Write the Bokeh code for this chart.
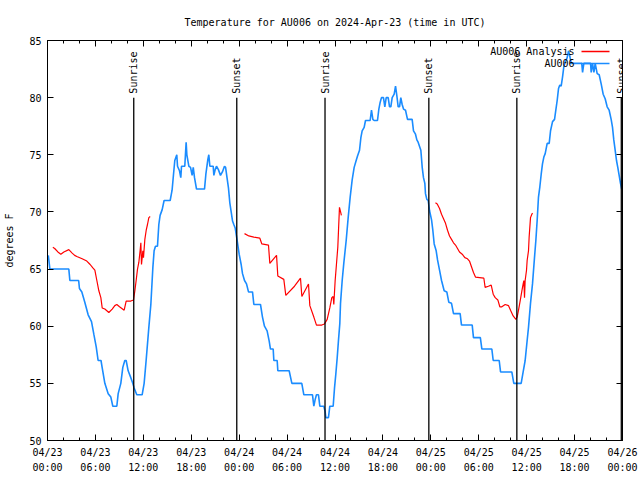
import math
from bokeh.plotting import figure
from bokeh.models import (FixedTicker, LinearAxis, Range1d, LabelSet, ColumnDataSource,
                          Label, Arrow, CustomJSTickFormatter)
from bokeh.core.properties import value
from bokeh.embed import file_html
from bokeh.resources import INLINE

NAN = float("nan")

# ---------------- data (hours since 2024-04-23 00:00 UTC) ----------------
obs_hours = [0.1, 0.3, 2.67, 2.8, 3.9, 4.0, 4.3, 4.67, 5.09, 5.51, 5.8, 6.1, 6.34, 6.7, 6.84,
             7.18, 7.6, 7.93, 8.18, 8.68, 8.85, 9.18, 9.43, 9.68, 9.85, 10.1, 10.43, 10.68,
             10.85, 11.18, 11.85, 12.1, 12.35, 12.69, 12.94, 13.19, 13.35, 13.52, 13.77, 13.94,
             14.1, 14.36, 14.6, 15.36, 15.6, 15.78, 15.94, 16.19, 16.28, 16.53, 16.69, 16.78,
             17.19, 17.36, 17.45, 17.7, 17.91, 18.11, 18.25, 18.41, 18.66, 19.66, 19.83, 20.08,
             20.2, 20.33, 20.75, 20.83, 21.0, 21.16, 21.4, 21.66, 21.9, 22.16, 22.3, 22.5,
             22.66, 22.83, 23.0, 23.17, 23.33, 23.5, 23.75, 24.0, 24.25, 24.42, 24.67, 24.92,
             25.17, 25.67, 25.84, 26.67, 26.92, 27.17, 27.5, 27.76, 27.92, 28.26, 28.34, 28.76,
             28.84, 30.26, 30.6, 31.84, 32.1, 33.18, 33.35, 33.52, 33.68, 33.93, 34.1, 34.6,
             34.77, 34.85, 35.18, 35.35, 35.77, 35.94, 36.1, 36.27, 36.44, 36.6, 36.69, 36.9,
             37.1, 37.4, 37.65, 37.9, 38.15, 38.4, 38.65, 38.82, 39.07, 39.24, 39.4, 39.65,
             39.82, 40.4, 40.57, 40.74, 40.9, 41.32, 41.49, 41.66, 41.82, 42.07, 42.24, 42.41,
             42.66, 42.83, 42.99, 43.16, 43.41, 43.58, 43.74, 43.91, 44.08, 44.24, 44.41, 44.58,
             44.83, 45.08, 45.66, 45.83, 46.08, 46.25, 46.41, 46.75, 46.92, 47.08, 47.25, 47.33,
             47.5, 47.67, 47.84, 48.09, 48.25, 48.42, 48.67, 48.84, 49.09, 49.34, 49.67, 50.0,
             50.25, 50.59, 50.84, 51.67, 51.84, 53.18, 53.34, 54.2, 54.39, 55.64, 55.81, 56.56,
             56.73, 58.14, 58.39, 59.31, 59.56, 59.81, 60.06, 60.23, 60.48, 60.73, 60.98, 61.15,
             61.31, 61.48, 61.65, 61.82, 61.98, 62.15, 62.32, 62.57, 62.82, 62.99, 63.24, 63.49,
             63.65, 63.82, 63.99, 64.15, 64.32, 64.49, 64.65, 64.82, 65.07, 65.24, 65.41, 65.58,
             66.9, 67.0, 67.16, 68.0, 68.08, 68.25, 68.42, 68.58, 68.83, 69.08, 69.33, 69.58,
             69.83, 70.08, 70.33, 70.58, 70.75, 70.91, 71.08, 71.25, 71.41, 71.58, 71.75, 71.9]
obs_temps = [66.2, 65, 65, 64, 64, 63.3, 63, 62.1, 61, 60.4, 59.3, 58.2, 57, 57, 56.4,
             55, 54.1, 53.8, 53, 53, 54.1, 55, 56.4, 57, 57, 56.1, 55.5, 55,
             54.6, 54, 54, 55, 57, 59.9, 61.9, 65.1, 66.6, 67, 67, 68.9,
             69.7, 70.2, 71, 71, 71.9, 73.3, 74.5, 75, 74, 73.6, 73, 74,
             74, 76.1, 75, 74, 73.9, 73.2, 73.9, 73, 72, 72, 73.3, 74.6,
             75, 74, 74, 73.2, 73.7, 74, 73.7, 73.2, 73.5, 74, 73.9, 72.9,
             72.1, 70.8, 70, 69.2, 68.9, 68.6, 67.5, 66.3, 65.4, 64.6, 64, 63.7,
             63, 63, 61.9, 61.9, 60.8, 60, 59.6, 58.7, 58, 58, 57, 57,
             56.1, 56.1, 55, 55, 54, 54, 53, 53.6, 54, 54, 53, 53,
             52.5, 52, 52, 53, 53, 54.6, 55.8, 57.2, 58.8, 60.2, 62, 64,
             65.5, 67.5, 69.5, 71.3, 72.8, 73.9, 74.5, 74.9, 75.4, 76.5, 77.1, 77.4,
             78, 78, 78.9, 78.1, 78, 78, 79, 79.6, 80, 80, 79.2, 80,
             80, 79.2, 79.2, 80, 80.3, 81, 80.2, 79.2, 79.2, 80, 79.4, 79,
             78.9, 78.1, 78.1, 77.1, 76.8, 76.3, 76.1, 75.4, 73.9, 73, 72.5, 71.6,
             71.1, 71, 70.1, 69.3, 68.4, 67.2, 66.6, 65.8, 64.9, 64, 63.1, 63,
             62.1, 62, 61.1, 61.1, 60.1, 60.1, 59, 59, 58, 58, 57, 57,
             56, 56, 55, 55, 56, 57, 58.75, 59.9, 62, 63.7, 66, 67.5,
             69.2, 71.3, 72.2, 73.3, 74.2, 74.8, 75.1, 76, 76, 77.1, 77.9, 78.1,
             78.9, 79.75, 80.8, 81.1, 81, 81.8, 82.7, 83.1, 83.5, 84.1, 83.6, 83,
             83, 82.2, 83, 83, 82.2, 83, 82.2, 83, 82.1, 82, 81.2, 80.3,
             79.9, 79.2, 78.9, 78.1, 77.4, 76.3, 75.4, 74.5, 73.9, 73.2, 72.5, 72]

ana_hours = [0.67, 0.9, 1.3, 1.67, 2.05, 2.67, 3.09, 3.4, 3.67, 4.34, 4.92, 5.34, 5.68, 5.93,
             6.18, 6.43, 6.68, 6.85, 7.18, 7.68, 8.1, 8.43, 8.68, 9.02, 9.6, 9.85, 10.44, 10.77,
             10.94, 11.1, 11.27, 11.44, 11.61, 11.69, 11.77, 11.94, 12.02, 12.19, 12.36, 12.52,
             12.69, 12.86, NAN,
             24.67, 25.21, 25.84, 26.59, 26.84, 27.67, 27.84, 28.68, 28.84, 29.59, 29.84, 30.93,
             31.68, 31.85, 32.68, 32.85, 33.35, 33.68, 34.35, 34.68, 35.02, 35.35, 35.6, 35.77,
             35.85, 36.02, 36.18, 36.35, 36.44, 36.56, 36.7, 36.8, NAN,
             48.58, 48.8, 49.09, 49.34, 49.59, 49.84, 50.09, 50.34, 50.59, 50.84, 51.09, 51.34,
             51.59, 51.93, 52.26, 52.59, 52.84, 53.09, 53.34, 53.59, 54.64, 54.8, 55.2, 55.56,
             55.81, 56.06, 56.39, 56.64, 56.89, 57.31, 57.73, 57.98, 58.31, 58.65, 58.81, 58.98,
             59.23, 59.4, 59.56, 59.65, 59.73, 59.81, 59.98, 60.06, 60.23, 60.31, 60.48, 60.65,
             60.73]
ana_temps = [66.9, 66.8, 66.5, 66.3, 66.5, 66.7, 66.4, 66.2, 66.1, 65.9, 65.7, 65.4, 65.1, 64.9,
             64, 63.1, 62.5, 61.6, 61.5, 61.2, 61.5, 61.8, 61.9, 61.7, 61.4, 62.2, 62.2, 62.3,
             63.1, 64, 65, 65.6, 66.7, 67.3, 65.4, 66.6, 66, 67.6, 68.4, 68.9,
             69.5, 69.6, NAN,
             68.1, 67.9, 67.8, 67.7, 67.2, 67.1, 65.5, 66.2, 64.4, 64.1, 62.7, 63.5,
             64.2, 62.6, 63.7, 61.8, 60.8, 60.1, 60.1, 60.2, 60.6, 61.6, 62.5, 62.6,
             61.9, 64, 65.4, 66.9, 68.4, 70.4, 70, 69.7, NAN,
             70.8, 70.7, 70.3, 69.8, 69.4, 69, 68.4, 67.9, 67.6, 67.3, 67.1, 66.8,
             66.5, 66.3, 66, 65.9, 65.7, 65.2, 64.7, 64.3, 64.2, 63.4, 63.5, 63.6,
             62.8, 62.5, 62.3, 61.7, 61.7, 61.9, 61.8, 61.4, 60.9, 60.6, 60.8, 61.4,
             62.4, 63.1, 63.7, 64, 62.5, 64, 64.9, 65.75, 66.6, 67.8, 69.5, 69.8,
             69.9]

sun_names = ["Sunrise", "Sunset", "Sunrise", "Sunset", "Sunrise", "Sunset"]
sun_hours = [10.8, 23.7, 34.75, 47.75, 58.77, 71.85]
sun_line_low = [50, 50, 50, 50, 50, 50]
sun_line_high = [80, 80, 80, 80, 80, 80]

x_tick_hours = [0, 6, 12, 18, 24, 30, 36, 42, 48, 54, 60, 66, 72]
x_tick_labels = ["04/23\n00:00", "04/23\n06:00", "04/23\n12:00", "04/23\n18:00",
                 "04/24\n00:00", "04/24\n06:00", "04/24\n12:00", "04/24\n18:00",
                 "04/25\n00:00", "04/25\n06:00", "04/25\n12:00", "04/25\n18:00",
                 "04/26\n00:00"]
x_minor_hours = [h for h in range(0, 73, 2) if h % 6 != 0]
y_ticks = [50, 55, 60, 65, 70, 75, 80, 85]

series_names = ["AU006 Analysis", "AU006"]
series_colors = ["#ff0000", "#1a8cff"]

FONT = "DejaVu Sans Mono"
FS = "10px"

# ---------------- figure ----------------
p = figure(width=640, height=480, output_backend="svg", toolbar_location=None,
           x_range=Range1d(0, 72), y_range=Range1d(50, 85),
           min_border_left=47, min_border_right=18, min_border_top=40, min_border_bottom=40,
           title="Temperature for AU006 on 2024-Apr-23 (time in UTC)")
p.title.align = "center"
p.title.text_font = FONT
p.title.text_font_size = FS
p.title.text_font_style = "normal"
p.title.text_color = "black"
p.title.standoff = 25
p.outline_line_color = "black"
p.outline_line_width = 1
p.xgrid.visible = False
p.ygrid.visible = False
p.background_fill_color = "white"
p.border_fill_color = "white"

def style_axis(ax):
    ax.axis_line_color = "black"
    ax.major_tick_line_color = "black"
    ax.minor_tick_line_color = "black"
    ax.major_tick_in = 6
    ax.major_tick_out = 0
    ax.minor_tick_in = 3
    ax.minor_tick_out = 0
    ax.major_label_text_font = FONT
    ax.major_label_text_font_size = FS
    ax.major_label_text_color = "black"
    ax.axis_label_text_font = FONT
    ax.axis_label_text_font_size = FS
    ax.axis_label_text_font_style = "normal"
    ax.axis_label_text_color = "black"

xt = FixedTicker(ticks=x_tick_hours, minor_ticks=x_minor_hours)
yt = FixedTicker(ticks=y_ticks, minor_ticks=[])

p.xaxis.ticker = xt
p.xaxis.major_label_overrides = {h: lab for h, lab in zip(x_tick_hours, x_tick_labels)}
p.xaxis.major_label_standoff = 6
p.xaxis.major_label_text_line_height = 1.45
style_axis(p.xaxis[0])

p.yaxis.ticker = yt
p.yaxis.axis_label = "degrees F"
p.yaxis.major_label_standoff = 6
p.yaxis.axis_label_standoff = 11
style_axis(p.yaxis[0])

blank = CustomJSTickFormatter(code="return ''")
top = LinearAxis(ticker=xt, formatter=blank, major_label_standoff=0)
style_axis(top)
p.add_layout(top, "above")
right = LinearAxis(ticker=yt, formatter=blank, major_label_standoff=0)
style_axis(right)
p.add_layout(right, "right")

# ---------------- data lines ----------------
p.line(ana_hours, ana_temps, line_color=series_colors[0], line_width=1.2)
p.line(obs_hours, obs_temps, line_color=series_colors[1], line_width=1.6)

# sunrise / sunset markers
p.segment(x0=sun_hours, y0=sun_line_low, x1=sun_hours, y1=sun_line_high,
          line_color="black", line_width=1.3)
sun_src = ColumnDataSource(dict(x=sun_hours, y=sun_line_high, text=sun_names))
p.add_layout(LabelSet(x="x", y="y", text="text", source=sun_src, angle=90, angle_units="deg",
                      text_align="left", text_baseline="middle", y_offset=4,
                      text_font=value(FONT), text_font_size=value(FS),
                      text_color="black"))

# ---------------- gnuplot-style key (text then line sample) ----------------
key_rows_y = [389, 377]
for name, col, yy in zip(series_names, series_colors, key_rows_y):
    p.add_layout(Label(x=527, y=yy, x_units="screen", y_units="screen", text=name,
                       text_align="right", text_baseline="middle",
                       text_font=FONT, text_font_size=FS, text_color="black"))
    p.add_layout(Arrow(end=None, x_start=534, y_start=yy, x_end=562, y_end=yy,
                       start_units="screen", end_units="screen",
                       line_color=col, line_width=1.3))

open("out.html", "w").write(file_html(p, INLINE))
